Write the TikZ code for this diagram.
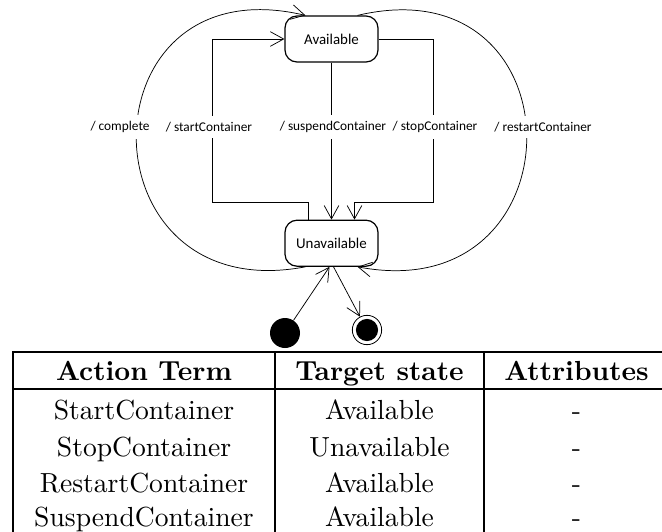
\documentclass[tikz,border=0pt]{standalone}
\usepackage{fontspec}
\usetikzlibrary{positioning,calc,arrows.meta}
\newfontfamily\statefont{Carlito}
\newcommand{\tabtxt}[1]{\scalebox{2.07}{#1}}

\tikzset{
	stbox/.style={draw, rounded corners=9pt, minimum width=69.75pt, minimum height=34.5pt, line width=0.9pt, font=\statefont\fontsize{11.2}{13}\selectfont},
	trans/.style={-{Straight Barb[length=10pt,width=11pt]}, line width=0.55pt},
	lbl/.style={fill=white, inner xsep=1pt, inner ysep=4.5pt, font=\statefont\fontsize{10}{12}\selectfont},
	initst/.style={circle, fill=black, minimum size=22.5pt, inner sep=0pt},
	finalst/.style={circle, draw, line width=0.6pt, minimum size=22pt, inner sep=0pt, path picture={\fill (path picture bounding box.center) circle (8.3pt);}},
	cell/.style={anchor=base, inner sep=0pt},
	tabrule/.style={line width=0.8pt},
}

\begin{document}
\begin{tikzpicture}[x=0.75pt, y=-0.75pt]
	\useasboundingbox (0,0) rectangle (662,532);

	\node[stbox] (avail) at (331.5,39) {Available};
	\node[stbox, below=117.75pt of avail] (unav) {Unavailable};
	\node[initst] (init) at (285,333) {};
	\node[finalst] (fin) at (367,330) {};

	\coordinate (startBend) at (212,202);
	\coordinate (stopBend) at (433,202);

	\draw[trans] ($(unav.north)+(-23,0)$) |- (startBend) |- (avail.west);
	\draw[trans] (avail) -- (unav);
	\draw[trans] (avail.east) -| (stopBend) -| ($(unav.north)+(23,0)$);
	\draw[trans] ($(unav.south)+(-26,0)$) .. controls (80,310) and (80,-38) .. ($(avail.north)+(-26,0)$);
	\draw[trans] ($(avail.north)+(26,0)$) .. controls (583,-38) and (583,310) .. ($(unav.south)+(26,0)$);
	\draw[trans] (init) -- ($(unav.south)+(-2,0)$);
	\draw[trans] ($(unav.south)+(2,0)$) -- (fin);

	\node[lbl] (lComplete) at (120,127) {/ complete};
	\node[lbl] (lStart) at (209,127) {/ startContainer};
	\node[lbl] (lSuspend) at (333,127) {/ suspendContainer};
	\node[lbl] (lStop) at (435,127) {/ stopContainer};
	\node[lbl] (lRestart) at (543,127) {/ restartContainer};

	% action table
	\draw[tabrule] (13,532) |- (662,352);
	\draw[tabrule] (13,389) -- (662,389);
	\draw[tabrule] (275,352) -- (275,532);
	\draw[tabrule] (484,352) -- (484,532);

	\node[cell] (hAct) at (144,380) {\tabtxt{\textbf{Action Term}}};
	\node[cell] (hTgt) at (379.5,380) {\tabtxt{\textbf{Target state}}};
	\node[cell] (hAttr) at (576.5,380) {\tabtxt{\textbf{Attributes}}};
	\node[cell] (startAct) at (144,419) {\tabtxt{StartContainer}};
	\node[cell] (startTgt) at (379.5,419) {\tabtxt{Available}};
	\node[cell] (startAttr) at (576.5,419) {\tabtxt{-}};
	\node[cell] (stopAct) at (144,456) {\tabtxt{StopContainer}};
	\node[cell] (stopTgt) at (379.5,456) {\tabtxt{Unavailable}};
	\node[cell] (stopAttr) at (576.5,456) {\tabtxt{-}};
	\node[cell] (restartAct) at (144,492) {\tabtxt{RestartContainer}};
	\node[cell] (restartTgt) at (379.5,492) {\tabtxt{Available}};
	\node[cell] (restartAttr) at (576.5,492) {\tabtxt{-}};
	\node[cell] (suspendAct) at (144,526) {\tabtxt{SuspendContainer}};
	\node[cell] (suspendTgt) at (379.5,526) {\tabtxt{Available}};
	\node[cell] (suspendAttr) at (576.5,526) {\tabtxt{-}};
\end{tikzpicture}
\end{document}
